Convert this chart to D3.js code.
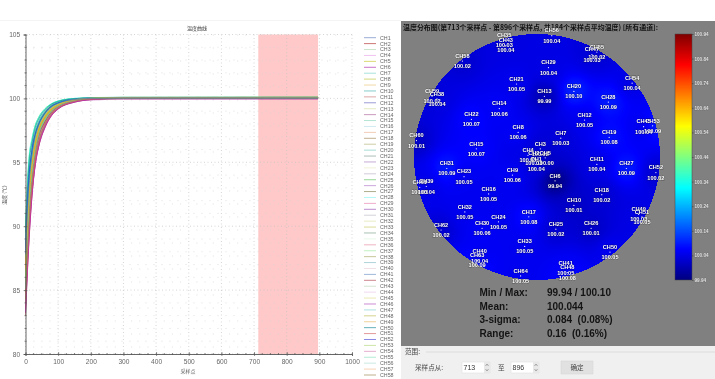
<!DOCTYPE html>
<html lang="en">
<head>
<meta charset="UTF-8">
<script src="https://cdn.jsdelivr.net/npm/d3@7"></script>
<style>
    html, body { margin: 0; padding: 0; background: #fff; overflow: hidden; }
    #fig { position: relative; width: 715px; height: 379px; }
    #fig canvas, #fig svg { position: absolute; left: 0; top: 0; }
    text { font-family: "Liberation Sans", sans-serif; }
    .cjk { font-family: "Noto Sans CJK SC", sans-serif; }
</style>
</head>
<body>
<div id="fig"></div>
<script>
// sample positions the curves were read at
const sampleX = [0, 10, 20, 30, 40, 60, 80, 100, 150, 200, 300, 896];

// one row per channel, CH1 first
const curves = [
    [87.2, 92.6, 95.3, 96.9, 97.8, 98.8, 99.3, 99.6, 99.93, 100.01, 100.04, 100.04],
    [84.6, 90.2, 93.6, 95.6, 96.8, 98.1, 98.9, 99.3, 99.8, 99.96, 100.02, 100.03],
    [86.4, 91.8, 94.7, 96.4, 97.4, 98.5, 99.1, 99.5, 99.88, 99.98, 100.01, 100.02],
    [85.3, 90.9, 94.1, 96.0, 97.1, 98.3, 99.0, 99.4, 99.84, 99.98, 100.04, 100.05],
    [88.1, 93.0, 95.6, 97.1, 97.9, 98.9, 99.4, 99.65, 99.92, 99.98, 100.0, 100.0],
    [84.1, 89.7, 93.1, 95.2, 96.5, 97.9, 98.8, 99.25, 99.72, 99.88, 99.93, 99.94],
    [89.3, 94.2, 96.2, 97.5, 98.2, 99.0, 99.45, 99.7, 99.94, 100.0, 100.03, 100.03],
    [85.8, 91.4, 94.4, 96.2, 97.3, 98.4, 99.1, 99.45, 99.88, 100.0, 100.05, 100.06],
    [86.9, 92.1, 94.9, 96.6, 97.6, 98.6, 99.2, 99.5, 99.9, 100.01, 100.05, 100.06],
    [83.9, 89.4, 92.9, 95.1, 96.4, 97.9, 98.75, 99.2, 99.74, 99.92, 100.0, 100.01],
    [87.7, 92.9, 95.4, 97.0, 97.8, 98.8, 99.35, 99.6, 99.92, 100.0, 100.03, 100.04],
    [85.0, 90.5, 93.8, 95.8, 97.0, 98.2, 98.95, 99.35, 99.83, 99.98, 100.04, 100.05],
    [88.6, 93.5, 95.9, 97.3, 98.0, 98.9, 99.4, 99.65, 99.9, 99.96, 99.98, 99.99],
    [84.4, 90.0, 93.4, 95.4, 96.7, 98.0, 98.85, 99.3, 99.8, 99.98, 100.05, 100.06],
    [86.1, 91.6, 94.5, 96.3, 97.4, 98.5, 99.15, 99.5, 99.9, 100.02, 100.06, 100.07],
    [87.4, 92.5, 95.2, 96.8, 97.7, 98.7, 99.3, 99.55, 99.92, 100.01, 100.04, 100.05],
    [83.6, 89.2, 92.7, 94.9, 96.3, 97.8, 98.7, 99.2, 99.76, 99.96, 100.06, 100.08],
    [85.5, 91.1, 94.2, 96.1, 97.2, 98.4, 99.05, 99.4, 99.82, 99.96, 100.01, 100.02],
    [89.0, 93.9, 96.0, 97.4, 98.1, 99.0, 99.5, 99.72, 99.97, 100.04, 100.07, 100.08],
    [89.7, 94.8, 96.6, 97.8, 98.4, 99.15, 99.55, 99.78, 100.0, 100.06, 100.09, 100.1],
    [86.6, 91.9, 94.8, 96.5, 97.5, 98.6, 99.2, 99.5, 99.9, 100.01, 100.04, 100.05],
    [84.9, 90.4, 93.7, 95.7, 96.9, 98.2, 98.95, 99.35, 99.84, 100.0, 100.06, 100.07],
    [87.9, 92.8, 95.5, 97.0, 97.9, 98.8, 99.35, 99.6, 99.92, 100.01, 100.04, 100.05],
    [85.2, 90.7, 93.9, 95.9, 97.0, 98.3, 99.0, 99.4, 99.85, 99.99, 100.04, 100.05],
    [89.9, 95.0, 96.8, 97.9, 98.5, 99.2, 99.58, 99.8, 99.98, 100.02, 100.02, 100.02],
    [84.2, 89.9, 93.3, 95.3, 96.6, 98.0, 98.8, 99.25, 99.76, 99.93, 100.0, 100.01],
    [88.3, 93.2, 95.7, 97.2, 98.0, 98.9, 99.45, 99.68, 99.96, 100.04, 100.08, 100.09],
    [90.0, 95.2, 96.9, 97.9, 98.5, 99.2, 99.6, 99.8, 100.0, 100.06, 100.08, 100.09],
    [85.7, 91.2, 94.3, 96.1, 97.2, 98.4, 99.05, 99.4, 99.85, 99.98, 100.03, 100.04],
    [83.2, 88.7, 92.5, 94.8, 96.2, 97.8, 98.7, 99.2, 99.74, 99.94, 100.05, 100.06],
    [86.3, 91.7, 94.6, 96.3, 97.4, 98.5, 99.15, 99.5, 99.92, 100.04, 100.08, 100.09],
    [87.0, 92.2, 95.0, 96.7, 97.6, 98.6, 99.2, 99.52, 99.9, 100.0, 100.04, 100.05],
    [84.7, 90.3, 93.5, 95.5, 96.8, 98.1, 98.9, 99.3, 99.8, 99.97, 100.04, 100.05],
    [88.8, 93.7, 95.9, 97.3, 98.1, 98.95, 99.45, 99.68, 99.94, 100.01, 100.03, 100.04],
    [85.9, 91.5, 94.4, 96.2, 97.3, 98.4, 99.1, 99.45, 99.87, 99.99, 100.03, 100.03],
    [86.8, 92.0, 94.9, 96.6, 97.6, 98.6, 99.2, 99.5, 99.9, 100.0, 100.04, 100.04],
    [84.0, 89.6, 93.0, 95.2, 96.5, 97.9, 98.8, 99.25, 99.77, 99.94, 100.02, 100.03],
    [87.5, 92.7, 95.3, 96.9, 97.8, 98.7, 99.3, 99.58, 99.91, 100.0, 100.03, 100.04],
    [85.4, 91.0, 94.1, 96.0, 97.1, 98.3, 99.0, 99.4, 99.84, 99.98, 100.03, 100.04],
    [83.4, 88.9, 92.6, 94.9, 96.3, 97.8, 98.72, 99.2, 99.74, 99.93, 100.03, 100.04],
    [88.4, 93.3, 95.8, 97.2, 98.0, 98.9, 99.42, 99.66, 99.94, 100.02, 100.04, 100.05],
    [83.0, 88.5, 92.4, 94.95, 96.2, 97.75, 98.66, 99.18, 99.7, 99.9, 100.0, 100.0],
    [86.2, 91.6, 94.5, 96.3, 97.4, 98.5, 99.12, 99.48, 99.9, 100.0, 100.03, 100.04],
    [84.5, 90.1, 93.4, 95.4, 96.7, 98.0, 98.84, 99.28, 99.78, 99.94, 100.01, 100.02],
    [87.1, 92.4, 95.1, 96.8, 97.7, 98.7, 99.25, 99.55, 99.9, 100.0, 100.03, 100.04],
    [83.3, 88.6, 92.4, 94.8, 96.2, 97.72, 98.66, 99.16, 99.7, 99.9, 100.02, 100.03],
    [88.9, 93.8, 96.0, 97.4, 98.1, 99.0, 99.48, 99.7, 99.95, 100.01, 100.03, 100.03],
    [85.6, 91.3, 94.2, 96.1, 97.2, 98.4, 99.05, 99.42, 99.86, 100.0, 100.06, 100.08],
    [86.5, 91.9, 94.7, 96.4, 97.5, 98.55, 99.15, 99.48, 99.88, 99.98, 100.02, 100.03],
    [89.5, 94.6, 96.5, 97.7, 98.35, 99.1, 99.55, 99.76, 99.98, 100.03, 100.05, 100.05],
    [84.8, 90.6, 93.8, 95.8, 97.0, 98.2, 98.96, 99.36, 99.84, 99.98, 100.04, 100.05],
    [88.0, 93.6, 96.0, 97.2, 97.95, 98.85, 99.38, 99.64, 99.92, 99.99, 100.01, 100.02],
    [86.0, 91.5, 94.4, 96.2, 97.3, 98.5, 99.1, 99.46, 99.88, 100.01, 100.08, 100.09],
    [83.7, 89.3, 92.8, 95.0, 96.4, 97.85, 98.74, 99.22, 99.76, 99.94, 100.03, 100.04],
    [87.6, 92.7, 95.4, 96.9, 97.8, 98.75, 99.3, 99.58, 99.92, 100.01, 100.03, 100.03],
    [85.1, 90.8, 94.0, 95.9, 97.1, 98.3, 99.0, 99.38, 99.84, 99.99, 100.03, 100.04],
    [86.7, 92.0, 94.8, 96.5, 97.5, 98.6, 99.18, 99.5, 99.9, 100.0, 100.03, 100.03],
    [84.3, 89.8, 93.2, 95.3, 96.6, 98.0, 98.82, 99.26, 99.78, 99.95, 100.01, 100.02],
    [87.8, 93.1, 95.6, 97.1, 97.9, 98.85, 99.36, 99.62, 99.92, 100.0, 100.02, 100.02]
];

const curveColors = [
    "#7f95c8", "#bf5050", "#bcdcbc", "#eeb4ee", "#d0d050", "#bb50bb", "#90dcd2", "#c8d060", "#eed090", "#68c0c0",
    "#d49090", "#8080cc", "#dce4b4", "#bc80b0", "#a0dcc8", "#c4e4ee", "#eec0a4", "#b09c70", "#c0c090", "#90d4cc",
    "#98aca4", "#b898cc", "#eeeecc", "#c8bed0", "#7ccc7c", "#c090d4", "#989870", "#a0f6f6", "#ee98c0", "#a870c4",
    "#c8c8d0", "#e4e4b4", "#d0d080", "#90b0a0", "#e4f6e4", "#eea0b4", "#b4eeb4", "#b8b880", "#98c8d0", "#eed8e0",
    "#88a4d0", "#c06870", "#c8dcc8", "#eed0ee", "#e4e4a0", "#c070cc", "#98dcdc", "#c8c870", "#eec880", "#3c9ca8",
    "#dc8080", "#6c6cdc", "#c0dc90", "#dc98c0", "#a0e4c8", "#bce4dc", "#f6c8a4", "#b09c70", "#90a0c0"
];

const xTickValues = [0, 100, 200, 300, 400, 500, 600, 700, 800, 900, 1000];
const yTickValues = [80, 85, 90, 95, 100, 105];
const rangeStart = 713;
const rangeEnd = 896;

// probes on the wafer, x / y in mm from the centre
const probeNames = ["CH58","CH21","CH13","CH29","CH14","CH22","CH8","CH60","CH15","CH3","CH31","CH23","CH9","CH16","CH32","CH24","CH30","CH17","CH62","CH33","CH64","CH6","CH54","CH20","CH28","CH12","CH7","CH19","CH11","CH27","CH52","CH18","CH10","CH25","CH26","CH50","CH4","CH5","CH1","CH2","CH35","CH43","CH56","CH55","CH47","CH53","CH45","CH59","CH38","CH61","CH39","CH40","CH63","CH49","CH51","CH41","CH48"];
const probeX = [-91,-25,9,14,-46,-80,-23,-147,-74,4,-110,-89,-30,-59,-88,-47,-67,-10,-117,-15,-20,22,116,45,87,58,29,88,73,109,145,79,45,23,66,89,-11,10,-1,-4,-40,-38,18,73,67,141,130,-128,-122,-143,-135,-70,-73,124,128,35,37];
const probeY = [117,89,74,109,59,46,30,20,10,10,-14,-24,-22,-45,-67,-79,-87,-73,-89,-109,-145,-29,90,80,67,45,23,24,-9,-14,-19,-46,-59,-88,-87,-116,2,-1,-9,-1,143,136,148,128,125,38,37,74,71,-37,-36,-121,-126,-70,-73,-135,-141];
const probeTemps = [100.02,100.05,99.99,100.04,100.06,100.07,100.06,100.01,100.07,100.02,100.09,100.05,100.06,100.05,100.05,100.05,100.06,100.08,100.02,100.05,100.05,99.94,100.04,100.10,100.09,100.05,100.03,100.08,100.04,100.09,100.02,100.02,100.01,100.02,100.01,100.05,100.05,100.00,100.04,100.03,100.03,100.04,100.04,100.02,100.03,100.09,100.04,100.02,100.04,100.05,100.04,100.04,100.09,100.03,100.05,100.05,100.08];

const colorbarTicks = [100.94, 100.84, 100.74, 100.64, 100.54, 100.44, 100.34, 100.24, 100.14, 100.04, 99.94];
const jetStops = [0, 0.125, 0.375, 0.625, 0.875, 1];
const jetColors = ["#00007f", "#0000ff", "#00ffff", "#ffff00", "#ff0000", "#7f0000"];

const statLabels = ["Min / Max:", "Mean:", "3-sigma:", "Range:"];
const statValues = ["99.94 / 100.10", "100.044", "0.084  (0.08%)", "0.16  (0.16%)"];

const width = 715, height = 379;
const fig = d3.select("#fig");

// heat map goes on a canvas under the svg
const canvas = fig.append("canvas").attr("width", width).attr("height", height).node();
const svg = fig.append("svg").attr("width", width).attr("height", height);

// ---------- left plot ----------
const x = d3.scaleLinear().domain([0, 1000]).range([25.5, 352]);
const y = d3.scaleLinear().domain([80, 105]).range([354, 34.5]);

svg.append("line").attr("x1", 0).attr("x2", 401).attr("y1", 20.5).attr("y2", 20.5).attr("stroke", "#f4f4f4");

const grid = svg.append("g");
grid.append("rect")
    .attr("x", x(rangeStart)).attr("y", y(105))
    .attr("width", x(rangeEnd) - x(rangeStart)).attr("height", y(80) - y(105))
    .attr("fill", "#ffc9c9");

const xMinor = d3.range(0, 1001, 25);
const yMinor = d3.range(80, 106, 1);
grid.selectAll(".gx").data(xMinor).enter().append("line")
    .attr("x1", d => x(d)).attr("x2", d => x(d)).attr("y1", y(105)).attr("y2", y(80))
    .attr("stroke", d => d % 100 == 0 ? "#c4c4c4" : "#d4d4d4")
    .attr("stroke-width", 0.7)
    .attr("stroke-dasharray", d => d % 100 == 0 ? "1,2.5" : "1,12");
grid.selectAll(".gy").data(yMinor).enter().append("line")
    .attr("x1", x(0)).attr("x2", x(1000)).attr("y1", d => y(d)).attr("y2", d => y(d))
    .attr("stroke", d => d % 5 == 0 ? "#c4c4c4" : "#d4d4d4")
    .attr("stroke-width", 0.7)
    .attr("stroke-dasharray", d => d % 5 == 0 ? "1,2.5" : "1,7");

const line = d3.line()
    .x((d, i) => x(sampleX[i]))
    .y(d => y(d))
    .curve(d3.curveMonotoneX);

// plot lines read stronger than their legend swatches
const plotColor = (c) => {
    const h = d3.hsl(c);
    h.s = Math.min(1, h.s + 0.25);
    h.l = h.l * 0.75;
    return h.formatHex();
};

svg.append("g").selectAll("path").data(curves).enter().append("path")
    .attr("d", line)
    .attr("fill", "none")
    .attr("stroke", (d, i) => plotColor(curveColors[i]))
    .attr("stroke-width", 0.6);

function styleAxis(g) {
    g.select(".domain").attr("stroke", "#555").attr("stroke-width", 0.9);
    g.selectAll("line").attr("stroke", "#555").attr("stroke-width", 0.8);
    g.selectAll("text").attr("fill", "#666").style("font-size", "6.6px");
}

const xAxisG = svg.append("g").attr("transform", `translate(0,${y(80)})`)
    .call(d3.axisBottom(x).tickValues(xTickValues).tickSize(1.8).tickPadding(3.5).tickFormat(d3.format("d")));
styleAxis(xAxisG);
xAxisG.selectAll(".tick line").attr("y1", -1.8);
svg.append("g").selectAll("line").data(xMinor.filter(d => d % 100 != 0)).enter().append("line")
    .attr("x1", d => x(d)).attr("x2", d => x(d)).attr("y1", y(80) - 1).attr("y2", y(80) + 1)
    .attr("stroke", "#555").attr("stroke-width", 0.7);

const yAxisG = svg.append("g").attr("transform", `translate(${x(0)},0)`)
    .call(d3.axisLeft(y).tickValues(yTickValues).tickSize(1.8).tickPadding(3.5).tickFormat(d3.format("d")));
styleAxis(yAxisG);
yAxisG.selectAll(".tick line").attr("x1", 1.8).attr("x2", -1.8);
svg.append("g").selectAll("line").data(yMinor.filter(d => d % 5 != 0)).enter().append("line")
    .attr("x1", x(0) - 1).attr("x2", x(0) + 1).attr("y1", d => y(d)).attr("y2", d => y(d))
    .attr("stroke", "#555").attr("stroke-width", 0.7);

svg.append("text").attr("class", "cjk").attr("x", 197).attr("y", 30)
    .attr("text-anchor", "middle").attr("fill", "#333").attr("font-size", 5).text("温度曲线");
svg.append("text").attr("class", "cjk").attr("x", 188).attr("y", 372.5)
    .attr("text-anchor", "middle").attr("fill", "#555").attr("font-size", 5).text("采样点");
svg.append("text").attr("class", "cjk")
    .attr("transform", "translate(5.5,195) rotate(-90)")
    .attr("text-anchor", "middle").attr("fill", "#555").attr("font-size", 5).text("温度 (℃)");

// legend
const legendY = d3.scaleLinear().domain([0, 57]).range([37.7, 375]);
const legend = svg.append("g").selectAll("g").data(curves).enter().append("g")
    .attr("transform", (d, i) => `translate(364,${legendY(i)})`);
legend.append("line").attr("x1", 0).attr("x2", 12)
    .attr("stroke", (d, i) => curveColors[i]).attr("stroke-width", 0.8);
legend.append("text").attr("x", 16).attr("y", 1.9)
    .attr("fill", "#666").attr("font-size", 5.3)
    .text((d, i) => "CH" + (i + 1));

// ---------- right panel ----------
const ctx = canvas.getContext("2d");
ctx.fillStyle = "#808080";
ctx.fillRect(401, 21, 314, 325);
ctx.fillStyle = "#f0f0f0";
ctx.fillRect(401, 346, 314, 33);

const waferX = d3.scaleLinear().domain([-150, 150]).range([414, 660]);
const waferY = d3.scaleLinear().domain([-150, 150]).range([280, 34]);
const tempScale = d3.scaleLinear().domain([99.94, 100.94]).range([0, 1]);
const jet = d3.scaleLinear().domain(jetStops).range(jetColors).interpolate(d3.interpolateRgb);

// inverse distance weighting between the probes, only for painting the disc
const x0 = Math.floor(waferX.range()[0]), x1 = Math.ceil(waferX.range()[1]);
const y0 = Math.floor(waferY.range()[1]), y1 = Math.ceil(waferY.range()[0]);
const image = ctx.getImageData(0, 0, width, height);
for (let py = y0; py < y1; py++) {
    for (let px = x0; px < x1; px++) {
        const wx = waferX.invert(px + 0.5), wy = waferY.invert(py + 0.5);
        if (wx * wx + wy * wy > 150 * 150) continue;
        let sum = 0, weights = 0;
        probeX.forEach((pxv, i) => {
            const dist = (wx - pxv) * (wx - pxv) + (wy - probeY[i]) * (wy - probeY[i]) + 80;
            const w = 1 / Math.pow(dist, 1.5);
            sum += w * probeTemps[i];
            weights += w;
        });
        const c = d3.rgb(jet(tempScale(sum / weights)));
        const idx = (py * width + px) * 4;
        image.data[idx] = c.r; image.data[idx + 1] = c.g; image.data[idx + 2] = c.b; image.data[idx + 3] = 255;
    }
}
ctx.putImageData(image, 0, 0);

const right = svg.append("g");
right.append("text").attr("class", "cjk").attr("x", 403).attr("y", 29.5)
    .attr("fill", "#111").attr("font-weight", 700).attr("font-size", 6.95)
    .text("温度分布图(第713个采样点 - 第896个采样点, 共184个采样点平均温度) [所有通道]:");

const probe = right.append("g").selectAll("g").data(probeNames).enter().append("g")
    .attr("transform", (d, i) => `translate(${waferX(probeX[i])},${waferY(probeY[i])})`);
probe.append("circle").attr("r", 0.6).attr("fill", "#fff");
probe.append("text").attr("y", -3.2).attr("text-anchor", "middle")
    .attr("font-size", 5.6).attr("font-weight", 700).attr("fill", "#fff")
    .attr("stroke", "#000").attr("stroke-opacity", 0.35).attr("stroke-width", 0.8).attr("paint-order", "stroke")
    .text(d => d);
probe.append("text").attr("y", 7).attr("text-anchor", "middle")
    .attr("font-size", 5.6).attr("font-weight", 700).attr("fill", "#fff")
    .attr("stroke", "#000").attr("stroke-opacity", 0.35).attr("stroke-width", 0.8).attr("paint-order", "stroke")
    .text((d, i) => probeTemps[i].toFixed(2));

// colour bar
const defs = svg.append("defs");
const grad = defs.append("linearGradient").attr("id", "jet").attr("x1", 0).attr("x2", 0).attr("y1", 1).attr("y2", 0);
grad.selectAll("stop").data(jetStops).enter().append("stop")
    .attr("offset", d => d).attr("stop-color", (d, i) => jetColors[i]);
const barY = d3.scaleLinear().domain([99.94, 100.94]).range([280, 34]);
right.append("rect").attr("x", 675).attr("y", barY(100.94)).attr("width", 17)
    .attr("height", barY(99.94) - barY(100.94)).attr("fill", "url(#jet)")
    .attr("stroke", "#444").attr("stroke-width", 0.5);
const barAxis = right.append("g").attr("transform", "translate(692,0)")
    .call(d3.axisRight(barY).tickValues(colorbarTicks).tickSize(1.5).tickPadding(1).tickFormat(d3.format(".2f")));
barAxis.select(".domain").remove();
barAxis.selectAll("line").attr("stroke", "#333").attr("stroke-width", 0.5);
barAxis.selectAll("text").attr("fill", "#e6e6e6").attr("font-weight", 700).style("font-size", "4.6px")
    .attr("stroke", "#000").attr("stroke-opacity", 0.3).attr("stroke-width", 0.4).attr("paint-order", "stroke");

// stats block
const statRow = d3.scaleLinear().domain([0, 3]).range([296, 337]);
right.append("g").selectAll("text").data(statLabels).enter().append("text")
    .attr("x", 479.5).attr("y", (d, i) => statRow(i))
    .attr("font-size", 10).attr("font-weight", 700).attr("fill", "#141414").text(d => d);
right.append("g").selectAll("text").data(statValues).enter().append("text")
    .attr("x", 547).attr("y", (d, i) => statRow(i))
    .style("white-space", "pre")
    .attr("font-size", 10).attr("font-weight", 700).attr("fill", "#141414").text(d => d);

// form at the bottom
const form = svg.append("g");
form.append("line").attr("x1", 426).attr("x2", 715).attr("y1", 352).attr("y2", 352).attr("stroke", "#dcdcdc");
form.append("text").attr("class", "cjk").attr("x", 405).attr("y", 354).attr("fill", "#444").attr("font-size", 6.6).text("范围:");
form.append("text").attr("class", "cjk").attr("x", 415).attr("y", 370).attr("fill", "#444").attr("font-size", 6.6).text("采样点从:");
form.append("text").attr("class", "cjk").attr("x", 498).attr("y", 370).attr("fill", "#444").attr("font-size", 6.6).text("至");

const spinX = [462, 511];
const spinText = [rangeStart, rangeEnd];
spinX.forEach((sx, i) => {
    form.append("rect").attr("x", sx).attr("y", 362).attr("width", 28).attr("height", 11)
        .attr("fill", "#fff").attr("stroke", "#e2e2e2").attr("stroke-width", 0.6);
    form.append("rect").attr("x", sx + 22).attr("y", 362).attr("width", 6).attr("height", 11).attr("fill", "#e8e8e8");
    form.append("path").attr("d", `M${sx + 23.5},366 l1.5,-2 l1.5,2 M${sx + 23.5},369 l1.5,2 l1.5,-2`)
        .attr("fill", "none").attr("stroke", "#666").attr("stroke-width", 0.5);
    form.append("text").attr("x", sx + 1.5).attr("y", 370).attr("fill", "#333").attr("font-size", 7).text(spinText[i]);
});
form.append("rect").attr("x", 561).attr("y", 361).attr("width", 32).attr("height", 13)
    .attr("fill", "#e1e1e1").attr("stroke", "#d4d4d4").attr("stroke-width", 0.5);
form.append("text").attr("class", "cjk").attr("x", 577).attr("y", 370).attr("text-anchor", "middle")
    .attr("fill", "#444").attr("font-size", 6.6).text("确定");
</script>
</body>
</html>
